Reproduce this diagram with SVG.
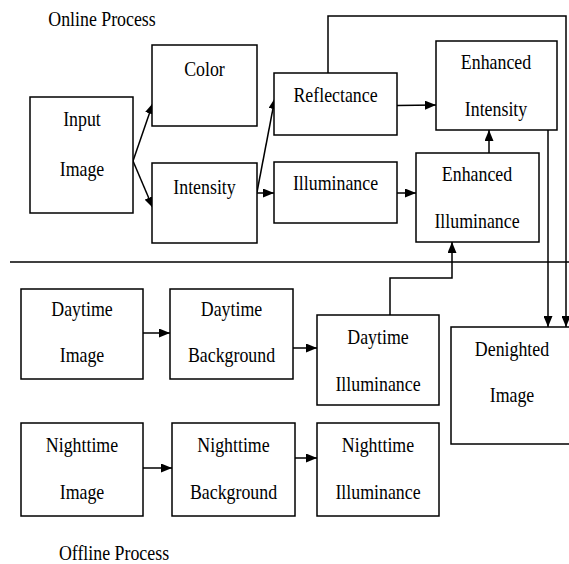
<svg xmlns="http://www.w3.org/2000/svg" width="569" height="564" viewBox="0 0 569 564">
<style>
  .box { fill: #fff; stroke: #000; stroke-width: 1.5; }
  .lbl { font-family: 'Liberation Serif', 'DejaVu Serif', serif; font-size: 21.5px; fill: #000; text-anchor: middle; }
  .conn { fill: none; stroke: #000; stroke-width: 1.5; }
  .sep { stroke: #000; stroke-width: 1.5; }
</style>
<defs>
  <marker id="arr" markerUnits="userSpaceOnUse" markerWidth="11" markerHeight="9" refX="11" refY="4.5" orient="auto">
    <path d="M0,0 L11,4.5 L0,9 z" fill="#000"/>
  </marker>
</defs>
<rect width="569" height="564" fill="#fff"/>

<text class="lbl" transform="translate(102,25.5) scale(0.83,1)">Online Process</text>
<text class="lbl" transform="translate(114,560) scale(0.83,1)">Offline Process</text>
<line class="sep" x1="10" y1="262" x2="569" y2="262"/>

<g id="connectors">
  <path class="conn" d="M133,161 L153,103" marker-end="url(#arr)"/>
  <path class="conn" d="M133,161 L153,208" marker-end="url(#arr)"/>
  <path class="conn" d="M257,192 L275,98" marker-end="url(#arr)"/>
  <path class="conn" d="M257,193 L274,193" marker-end="url(#arr)"/>
  <path class="conn" d="M397,105.5 L436,105" marker-end="url(#arr)"/>
  <path class="conn" d="M397,193 L416,193" marker-end="url(#arr)"/>
  <path class="conn" d="M489,153 L489,130" marker-end="url(#arr)"/>
  <path class="conn" d="M328,73 V16 H566 V327" marker-end="url(#arr)"/>
  <path class="conn" d="M548,130 V327" marker-end="url(#arr)"/>
  <path class="conn" d="M390,315 V278 H452 V242" marker-end="url(#arr)"/>
  <path class="conn" d="M143,333 L170,333" marker-end="url(#arr)"/>
  <path class="conn" d="M293,348 L317,348" marker-end="url(#arr)"/>
  <path class="conn" d="M143,468 L172,468" marker-end="url(#arr)"/>
  <path class="conn" d="M295,458 L317,458" marker-end="url(#arr)"/>
</g>

<g id="input-image">
  <rect class="box" x="30" y="97" width="103" height="116"/>
  <text class="lbl" transform="translate(82,126) scale(0.83,1)">Input</text>
  <text class="lbl" transform="translate(82,175.5) scale(0.83,1)">Image</text>
</g>
<g id="color">
  <rect class="box" x="152" y="45" width="105" height="81"/>
  <text class="lbl" transform="translate(204.5,76) scale(0.83,1)">Color</text>
</g>
<g id="intensity">
  <rect class="box" x="152" y="163" width="105" height="80"/>
  <text class="lbl" transform="translate(204.5,194) scale(0.83,1)">Intensity</text>
</g>
<g id="reflectance">
  <rect class="box" x="274" y="73" width="123" height="62"/>
  <text class="lbl" transform="translate(335.5,101.5) scale(0.83,1)">Reflectance</text>
</g>
<g id="illuminance">
  <rect class="box" x="274" y="162" width="123" height="61"/>
  <text class="lbl" transform="translate(335.5,190) scale(0.83,1)">Illuminance</text>
</g>
<g id="enhanced-intensity">
  <rect class="box" x="436" y="41" width="121" height="89"/>
  <text class="lbl" transform="translate(496,69) scale(0.83,1)">Enhanced</text>
  <text class="lbl" transform="translate(496,115.5) scale(0.83,1)">Intensity</text>
</g>
<g id="enhanced-illuminance">
  <rect class="box" x="416" y="153" width="123" height="89"/>
  <text class="lbl" transform="translate(477,180.5) scale(0.83,1)">Enhanced</text>
  <text class="lbl" transform="translate(477,227.5) scale(0.83,1)">Illuminance</text>
</g>
<g id="daytime-image">
  <rect class="box" x="21" y="289" width="122" height="90"/>
  <text class="lbl" transform="translate(82,315.5) scale(0.83,1)">Daytime</text>
  <text class="lbl" transform="translate(82,362) scale(0.83,1)">Image</text>
</g>
<g id="daytime-background">
  <rect class="box" x="170" y="289" width="123" height="90"/>
  <text class="lbl" transform="translate(231.5,315.5) scale(0.83,1)">Daytime</text>
  <text class="lbl" transform="translate(231.5,362) scale(0.83,1)">Background</text>
</g>
<g id="daytime-illuminance">
  <rect class="box" x="317" y="315" width="122" height="90"/>
  <text class="lbl" transform="translate(378,344) scale(0.83,1)">Daytime</text>
  <text class="lbl" transform="translate(378,390.5) scale(0.83,1)">Illuminance</text>
</g>
<g id="nighttime-image">
  <rect class="box" x="21" y="423" width="122" height="93"/>
  <text class="lbl" transform="translate(82,452) scale(0.83,1)">Nighttime</text>
  <text class="lbl" transform="translate(82,499) scale(0.83,1)">Image</text>
</g>
<g id="nighttime-background">
  <rect class="box" x="172" y="423" width="123" height="93"/>
  <text class="lbl" transform="translate(233.5,452) scale(0.83,1)">Nighttime</text>
  <text class="lbl" transform="translate(233.5,499) scale(0.83,1)">Background</text>
</g>
<g id="nighttime-illuminance">
  <rect class="box" x="317" y="423" width="122" height="93"/>
  <text class="lbl" transform="translate(378,452) scale(0.83,1)">Nighttime</text>
  <text class="lbl" transform="translate(378,499) scale(0.83,1)">Illuminance</text>
</g>
<g id="denighted-image">
  <rect class="box" x="451" y="327" width="125" height="117"/>
  <text class="lbl" transform="translate(512,356) scale(0.83,1)">Denighted</text>
  <text class="lbl" transform="translate(512,402) scale(0.83,1)">Image</text>
</g>
</svg>
